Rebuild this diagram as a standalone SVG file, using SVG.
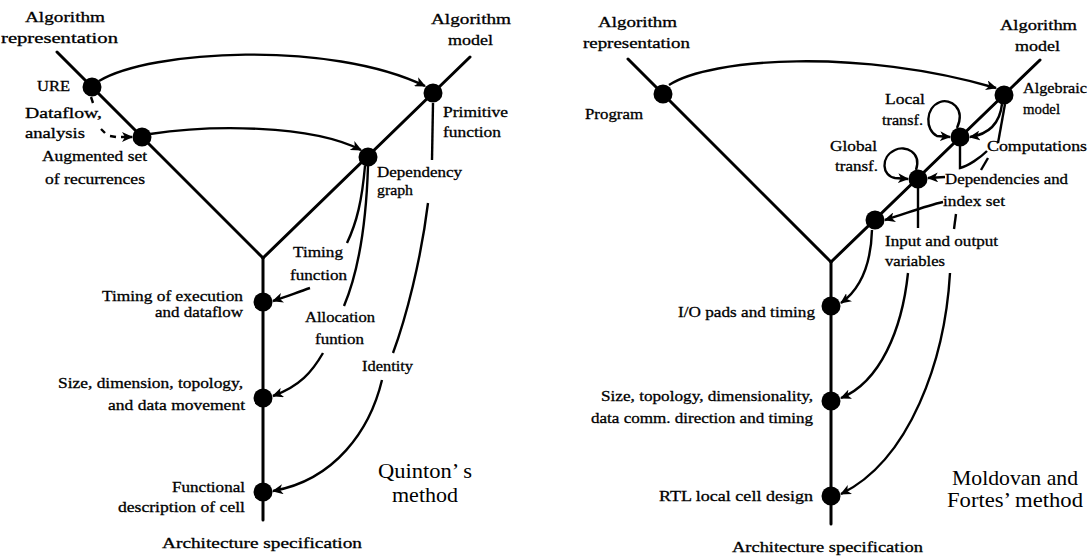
<svg xmlns="http://www.w3.org/2000/svg" width="1092" height="558" viewBox="0 0 1092 558">
  <style>
    .axis { stroke: #000; stroke-width: 3; fill: none; stroke-linecap: round; }
    .edge { stroke: #000; stroke-width: 2.4; fill: none; }
    .arr { marker-end: url(#ah); }
    .dot { fill: #000; }
    text { font-family: "Liberation Serif", "Times New Roman", serif; fill: #000; font-size: 15px; stroke: #000; stroke-width: 0.3; }
    .title { font-size: 21.5px; stroke: none; }
  </style>
  <defs>
    <marker id="ah" markerWidth="12" markerHeight="10" refX="10" refY="5" orient="auto" markerUnits="userSpaceOnUse">
      <path d="M0,0 L11,5 L0,10 L3,5 Z" fill="#000"/>
    </marker>
  </defs>
  <rect width="1092" height="558" fill="#fff"/>

  <!-- ===== Quinton's method (left) ===== -->
  <g id="left-axes">
    <line class="axis" x1="57" y1="52" x2="263" y2="258"/>
    <line class="axis" x1="470" y1="57" x2="263" y2="258"/>
    <line class="axis" x1="263" y1="258" x2="263" y2="520"/>
    <text x="25" y="22" textLength="80" lengthAdjust="spacingAndGlyphs">Algorithm</text>
    <text x="1" y="43" textLength="117" lengthAdjust="spacingAndGlyphs">representation</text>
    <text x="431" y="24" textLength="80" lengthAdjust="spacingAndGlyphs">Algorithm</text>
    <text x="448" y="45" textLength="45" lengthAdjust="spacingAndGlyphs">model</text>
    <text x="162" y="548" textLength="200" lengthAdjust="spacingAndGlyphs">Architecture specification</text>
    <text class="title" x="378" y="478" textLength="94" lengthAdjust="spacingAndGlyphs">Quinton’ s</text>
    <text class="title" x="392" y="502" textLength="66" lengthAdjust="spacingAndGlyphs">method</text>
  </g>

  <g id="left-connectors">
    <path class="edge arr" d="M99,81 C150,50 330,40 425,86"/>
    <path class="edge arr" d="M150,134 C210,125 310,124 361,150"/>
    <!-- dashed dataflow-analysis arrow, drawn as separate dashes -->
    <path class="edge arr" d="M91,97 L93,103 M101,129 L105,133 M110,136 L116,137 M121,137 L132,137"/>
    <!-- dependency graph to timing of execution -->
    <path class="edge" d="M365,166 C362,200 357,222 347,243"/>
    <path class="edge arr" d="M310,288 C298,292 288,296 273,301"/>
    <!-- dependency graph to size / topology -->
    <path class="edge" d="M368,166 C366,230 357,275 344,306"/>
    <path class="edge arr" d="M323,353 C312,372 300,386 273,396"/>
    <!-- primitive function to functional description -->
    <path class="edge" d="M433,103 L432,160"/>
    <path class="edge" d="M428,203 C421,260 406,318 393,353"/>
    <path class="edge arr" d="M382,380 C370,430 335,480 273,491"/>
    <text x="293" y="257" textLength="50" lengthAdjust="spacingAndGlyphs">Timing</text>
    <text x="290" y="280" textLength="57" lengthAdjust="spacingAndGlyphs">function</text>
    <text x="305" y="322" textLength="70" lengthAdjust="spacingAndGlyphs">Allocation</text>
    <text x="315" y="344" textLength="49" lengthAdjust="spacingAndGlyphs">funtion</text>
    <text x="362" y="371" textLength="51" lengthAdjust="spacingAndGlyphs">Identity</text>
    <text x="25" y="118" textLength="77" lengthAdjust="spacingAndGlyphs">Dataflow,</text>
    <text x="25" y="138" textLength="60" lengthAdjust="spacingAndGlyphs">analysis</text>
  </g>

  <g id="n-ure">
    <circle class="dot" cx="92" cy="87" r="9.5"/>
    <text x="37" y="91" textLength="33" lengthAdjust="spacingAndGlyphs">URE</text>
  </g>
  <g id="n-augmented">
    <circle class="dot" cx="142" cy="137" r="9.5"/>
    <text x="42" y="161" textLength="105" lengthAdjust="spacingAndGlyphs">Augmented set</text>
    <text x="45" y="184" textLength="100" lengthAdjust="spacingAndGlyphs">of recurrences</text>
  </g>
  <g id="n-primitive">
    <circle class="dot" cx="433" cy="93" r="9.5"/>
    <text x="443" y="117" textLength="65" lengthAdjust="spacingAndGlyphs">Primitive</text>
    <text x="443" y="137" textLength="58" lengthAdjust="spacingAndGlyphs">function</text>
  </g>
  <g id="n-dependency-graph">
    <circle class="dot" cx="368" cy="157" r="9.5"/>
    <text x="377" y="177" textLength="85" lengthAdjust="spacingAndGlyphs">Dependency</text>
    <text x="377" y="195" textLength="36" lengthAdjust="spacingAndGlyphs">graph</text>
  </g>
  <g id="n-timing">
    <circle class="dot" cx="263" cy="302" r="9.5"/>
    <text x="102" y="301" textLength="141" lengthAdjust="spacingAndGlyphs">Timing of execution</text>
    <text x="155" y="317" textLength="88" lengthAdjust="spacingAndGlyphs">and dataflow</text>
  </g>
  <g id="n-size">
    <circle class="dot" cx="263" cy="398" r="9.5"/>
    <text x="58" y="388" textLength="185" lengthAdjust="spacingAndGlyphs">Size, dimension, topology,</text>
    <text x="108" y="410" textLength="137" lengthAdjust="spacingAndGlyphs">and data movement</text>
  </g>
  <g id="n-functional">
    <circle class="dot" cx="263" cy="492" r="9.5"/>
    <text x="172" y="492" textLength="73" lengthAdjust="spacingAndGlyphs">Functional</text>
    <text x="118" y="512" textLength="127" lengthAdjust="spacingAndGlyphs">description of cell</text>
  </g>

  <!-- ===== Moldovan and Fortes' method (right) ===== -->
  <g id="right-axes">
    <line class="axis" x1="628" y1="59" x2="831" y2="262"/>
    <line class="axis" x1="1040" y1="60" x2="831" y2="262"/>
    <line class="axis" x1="831" y1="262" x2="831" y2="524"/>
    <text x="598" y="27" textLength="79" lengthAdjust="spacingAndGlyphs">Algorithm</text>
    <text x="583" y="48" textLength="107" lengthAdjust="spacingAndGlyphs">representation</text>
    <text x="1000" y="30" textLength="77" lengthAdjust="spacingAndGlyphs">Algorithm</text>
    <text x="1015" y="51" textLength="45" lengthAdjust="spacingAndGlyphs">model</text>
    <text x="732" y="552" textLength="191" lengthAdjust="spacingAndGlyphs">Architecture specification</text>
    <text class="title" x="952" y="485" textLength="126" lengthAdjust="spacingAndGlyphs">Moldovan and</text>
    <text class="title" x="947" y="507" textLength="136" lengthAdjust="spacingAndGlyphs">Fortes’ method</text>
  </g>

  <g id="right-connectors">
    <path class="edge arr" d="M669,85 C710,58 860,48 996,88"/>
    <!-- algebraic model refinements -->
    <path class="edge arr" d="M1002,104 C1000,122 990,134 970,137"/>
    <path class="edge" d="M1005,104 L998,143"/>
    <path class="edge" d="M988,158 L981,170"/>
    <path class="edge arr" d="M945,177 L928,178"/>
    <path class="edge" d="M960,146 L960,168 C968,166 980,158 987,151"/>
    <path class="edge arr" d="M943,202 C925,206 905,214 885,220"/>
    <!-- local and global transformations -->
    <path class="edge arr" d="M957,128 C966,108 950,98 940,102 C925,108 925,130 937,136 L950,137"/>
    <path class="edge arr" d="M916,170 C922,152 905,145 895,150 C880,157 882,176 895,178 L908,179"/>
    <!-- mapping to architecture -->
    <path class="edge" d="M918,188 L918,228"/>
    <path class="edge" d="M956,214 L954,229"/>
    <path class="edge arr" d="M872,230 C871,262 862,288 841,303"/>
    <path class="edge arr" d="M908,273 C902,330 880,382 841,398"/>
    <path class="edge arr" d="M950,273 C945,360 910,460 841,494"/>
    <text x="885" y="104" textLength="40" lengthAdjust="spacingAndGlyphs">Local</text>
    <text x="882" y="125" textLength="41" lengthAdjust="spacingAndGlyphs">transf.</text>
    <text x="830" y="151" textLength="47" lengthAdjust="spacingAndGlyphs">Global</text>
    <text x="835" y="171" textLength="43" lengthAdjust="spacingAndGlyphs">transf.</text>
  </g>

  <g id="n-program">
    <circle class="dot" cx="663" cy="94" r="9.5"/>
    <text x="585" y="119" textLength="58" lengthAdjust="spacingAndGlyphs">Program</text>
  </g>
  <g id="n-algebraic">
    <circle class="dot" cx="1004" cy="95" r="9.5"/>
    <text x="1023" y="93" textLength="64" lengthAdjust="spacingAndGlyphs">Algebraic</text>
    <text x="1023" y="114" textLength="37" lengthAdjust="spacingAndGlyphs">model</text>
  </g>
  <g id="n-computations">
    <circle class="dot" cx="960" cy="137" r="9.5"/>
    <text x="987" y="151" textLength="100" lengthAdjust="spacingAndGlyphs">Computations</text>
  </g>
  <g id="n-dependencies">
    <circle class="dot" cx="918" cy="179" r="9.5"/>
    <text x="945" y="184" textLength="123" lengthAdjust="spacingAndGlyphs">Dependencies and</text>
    <text x="943" y="206" textLength="62" lengthAdjust="spacingAndGlyphs">index set</text>
  </g>
  <g id="n-io-variables">
    <circle class="dot" cx="875" cy="220" r="9.5"/>
    <text x="885" y="246" textLength="113" lengthAdjust="spacingAndGlyphs">Input and output</text>
    <text x="885" y="266" textLength="60" lengthAdjust="spacingAndGlyphs">variables</text>
  </g>
  <g id="n-io-pads">
    <circle class="dot" cx="831" cy="306" r="9.5"/>
    <text x="678" y="317" textLength="137" lengthAdjust="spacingAndGlyphs">I/O pads and timing</text>
  </g>
  <g id="n-size-topology">
    <circle class="dot" cx="831" cy="401" r="9.5"/>
    <text x="601" y="401" textLength="212" lengthAdjust="spacingAndGlyphs">Size, topology, dimensionality,</text>
    <text x="591" y="423" textLength="222" lengthAdjust="spacingAndGlyphs">data comm. direction and timing</text>
  </g>
  <g id="n-rtl">
    <circle class="dot" cx="831" cy="496" r="9.5"/>
    <text x="659" y="501" textLength="154" lengthAdjust="spacingAndGlyphs">RTL local cell design</text>
  </g>
</svg>
